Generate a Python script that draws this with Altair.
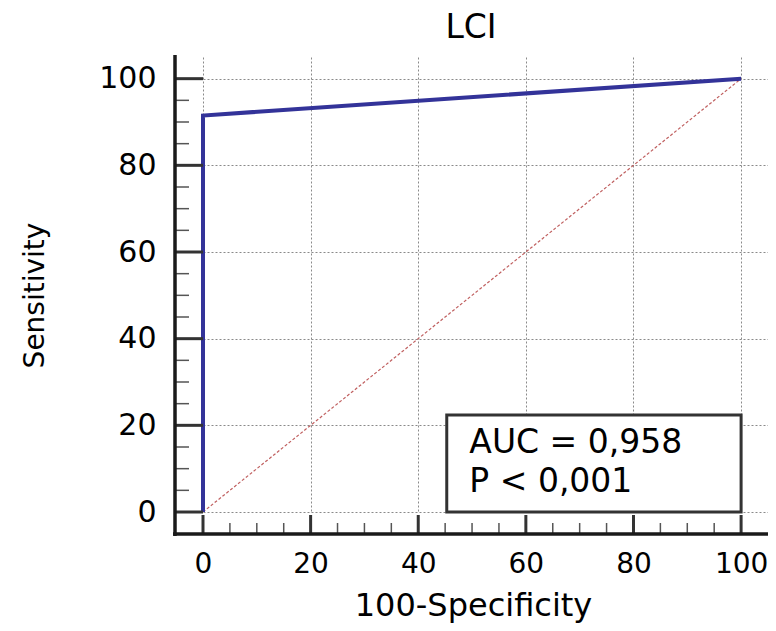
import altair as alt
import pandas as pd

# ROC curve points (100-Specificity, Sensitivity)
roc_fpr = [0, 0, 100]
roc_tpr = [0, 91.5, 100]
roc_order = [0, 1, 2]
# reference diagonal
diag_x = [0, 100]
diag_y = [0, 100]
# axis ticks
major_ticks = [0, 20, 40, 60, 80, 100]
minor_ticks = [5, 10, 15, 25, 30, 35, 45, 50, 55, 65, 70, 75, 85, 90, 95]
# statistics box
box_x = [45.3]
box_x2 = [100]
box_y = [0]
box_y2 = [22.4]
stat_labels = ["AUC = 0,958", "P < 0,001"]
stat_x = [49.5, 49.5]
stat_y = [13.6, 4.6]
chart_title = ["LCI"]

W, H = 565, 455
FONT = "DejaVu Sans"
DOM = [0, 105]

xs = alt.Scale(domain=DOM, nice=False, zero=False)
ys = alt.Scale(domain=DOM, nice=False, zero=False)

x_axis = alt.Axis(values=major_ticks, grid=True, gridColor="#8a8a8a", gridDash=[2, 2],
                  gridWidth=1, domain=False, ticks=False, labelFont=FONT, labelFontSize=28,
                  labelColor="#000", labelPadding=38, labelFlush=False, labelOverlap=False,
                  title="100-Specificity",
                  titleFont=FONT, titleFontSize=32, titleFontWeight="normal", titleColor="#000",
                  titleX=270, titleY=103, titleBaseline="alphabetic", titleAlign="center",
                  titleAngle=0)
y_axis = alt.Axis(values=major_ticks, grid=True, gridColor="#8a8a8a", gridDash=[2, 2],
                  gridWidth=1, domain=False, ticks=False, labelFont=FONT, labelFontSize=30,
                  labelColor="#000", labelPadding=47, labelFlush=False, labelOverlap=False,
                  title="Sensitivity",
                  titleFont=FONT, titleFontSize=28, titleFontWeight="normal", titleColor="#000",
                  titleX=-160, titleY=238, titleBaseline="alphabetic", titleAlign="center",
                  titleAngle=270)


def X(field):
    return alt.X(field, scale=xs, axis=x_axis)


def Y(field):
    return alt.Y(field, scale=ys, axis=y_axis)


roc_df = pd.DataFrame({"x": roc_fpr, "y": roc_tpr, "o": roc_order})
diag_df = pd.DataFrame({"x": diag_x, "y": diag_y})
box_df = pd.DataFrame({"x": box_x, "x2": box_x2, "y": box_y, "y2": box_y2})
stat_df = pd.DataFrame({"label": stat_labels, "x": stat_x, "y": stat_y})
major_df = pd.DataFrame({"x": major_ticks, "y": major_ticks})
minor_df = pd.DataFrame({"x": minor_ticks, "y": minor_ticks})
one_df = pd.DataFrame({"t": chart_title})

diag = alt.Chart(diag_df).mark_line(color="#c06060", strokeWidth=1.2, strokeDash=[3, 2]).encode(
    x=X("x:Q"), y=Y("y:Q"))

roc = alt.Chart(roc_df).mark_line(color="#333399", strokeWidth=4, strokeJoin="miter").encode(
    x=X("x:Q"), y=Y("y:Q"), order="o:Q")

box = alt.Chart(box_df).mark_rect(fill="white", stroke="#333333", strokeWidth=3).encode(
    x=X("x:Q"), x2="x2:Q", y=Y("y:Q"), y2="y2:Q")

stats = alt.Chart(stat_df).mark_text(font=FONT, fontSize=33, align="left",
                                     baseline="alphabetic", color="#000").encode(
    x=X("x:Q"), y=Y("y:Q"), text="label:N")

y_major = alt.Chart(major_df).mark_rule(color="#333333", strokeWidth=3).encode(
    y=Y("y:Q"), x=alt.value(-28), x2=alt.value(0))
y_minor = alt.Chart(minor_df).mark_rule(color="#555555", strokeWidth=1.5).encode(
    y=Y("y:Q"), x=alt.value(-28), x2=alt.value(-14))
x_major = alt.Chart(major_df).mark_rule(color="#333333", strokeWidth=3).encode(
    x=X("x:Q"), y=alt.value(H + 3), y2=alt.value(H + 22))
x_minor = alt.Chart(minor_df).mark_rule(color="#555555", strokeWidth=1.5).encode(
    x=X("x:Q"), y=alt.value(H + 11), y2=alt.value(H + 22))

left_line = alt.Chart(one_df).mark_rule(color="#1a1a1a", strokeWidth=3.5).encode(
    x=alt.value(-28), y=alt.value(-2), y2=alt.value(H + 24))
bottom_line = alt.Chart(one_df).mark_rule(color="#1a1a1a", strokeWidth=3.5).encode(
    x=alt.value(-30), x2=alt.value(W + 10), y=alt.value(H + 22))

title = alt.Chart(one_df).mark_text(font=FONT, fontSize=33, align="center",
                                    baseline="alphabetic", color="#000").encode(
    x=alt.value(268), y=alt.value(-19), text="t:N")

chart = alt.layer(
    diag, roc, box, stats, y_major, y_minor, x_major, x_minor, left_line, bottom_line, title
).properties(
    width=W, height=H,
    autosize=alt.AutoSizeParams(type="none"),
    padding={"left": 195, "top": 49, "right": 0, "bottom": 111},
).configure_view(stroke=None)

chart.save("out.html", embed_options={"renderer": "svg", "actions": False})
